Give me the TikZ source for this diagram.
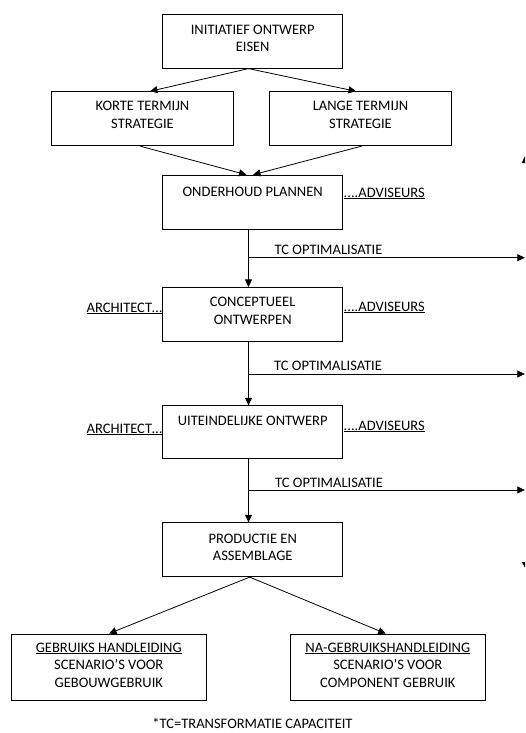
\documentclass[tikz,border=0pt]{standalone}
\usepackage{fontspec}
\setmainfont{Carlito}
\usetikzlibrary{arrows.meta}
\newcommand{\mlines}[1]{\parbox[t]{200pt}{\centering #1}}
\begin{document}
\begin{tikzpicture}[x=1pt,y=-1pt,
  box/.style={draw, line width=0.8pt, minimum width=180pt, minimum height=54pt, inner sep=0pt},
  txt/.style={anchor=base, inner sep=0pt, font=\fontsize{14.5}{17.5}\selectfont},
  side/.style={inner sep=0pt, font=\fontsize{14.5}{17.5}\selectfont},
  conn/.style={line width=0.8pt, -{Triangle[length=7.5pt,width=7pt]}},
  plain/.style={line width=0.8pt}]
\useasboundingbox (0,0) rectangle (525,733);
\clip (0,0) rectangle (525,733);

% boxes
\node[box] (b1) at (252.7,41.2) {};
\node[box, minimum width=181.6pt] (kort) at (142.5,118.7) {};
\node[box, minimum width=182.4pt] (lang) at (360.5,118.7) {};
\node[box] (ond) at (252.7,202.2) {};
\node[box, minimum height=53.7pt] (con) at (252.7,314.2) {};
\node[box, minimum height=52.6pt] (uit) at (252.7,432) {};
\node[box] (prod) at (252.7,549.7) {};
\node[box, minimum width=195.7pt, minimum height=66.7pt] (geb) at (108.8,667.3) {};
\node[box, minimum width=195.7pt, minimum height=66.7pt] (na) at (387.8,667.3) {};

% box texts
\node[txt] (b1t) at (252.7,34.3) {\mlines{INITIATIEF ONTWERP\\EISEN}};
\node[txt] (kortt) at (142.5,111) {\mlines{KORTE TERMIJN\\STRATEGIE}};
\node[txt] (langt) at (360.5,111) {\mlines{LANGE TERMIJN\\STRATEGIE}};
\node[txt] (ondt) at (252.7,196) {ONDERHOUD PLANNEN};
\node[txt] (cont) at (252.7,306.7) {\mlines{CONCEPTUEEL\\ONTWERPEN}};
\node[txt] (uitt) at (252.7,425) {UITEINDELIJKE ONTWERP};
\node[txt] (prodt) at (252.7,543) {\mlines{PRODUCTIE EN\\ASSEMBLAGE}};
\node[txt] (gebt) at (108.8,652) {\mlines{\underline{GEBRUIKS HANDLEIDING}\\SCENARIO’S VOOR\\GEBOUWGEBRUIK}};
\node[txt] (nat) at (387.8,652) {\mlines{\underline{NA-GEBRUIKSHANDLEIDING}\\SCENARIO’S VOOR\\COMPONENT GEBRUIK}};

% side labels
\node[side, anchor=base west] (adv1) at (343.5,197) {\underline{....ADVISEURS}};
\node[side, anchor=base west] (adv2) at (343.5,311) {\underline{....ADVISEURS}};
\node[side, anchor=base west] (adv3) at (343.5,430) {\underline{....ADVISEURS}};
\node[side, anchor=base east] (arch2) at (162.3,312) {\underline{ARCHITECT…}};
\node[side, anchor=base east] (arch3) at (162.3,433) {\underline{ARCHITECT…}};

% TC labels
\node[side, anchor=base west] (tc1) at (274.5,254) {TC OPTIMALISATIE};
\node[side, anchor=base west] (tc2) at (274,370) {TC OPTIMALISATIE};
\node[side, anchor=base west] (tc3) at (275,487) {TC OPTIMALISATIE};

% junctions
\coordinate (j1) at (248.5,257.7);
\coordinate (j2) at (248.5,374);
\coordinate (j3) at (248.5,490);
\coordinate (e1) at (524.8,257.7);
\coordinate (e2) at (524.8,374);
\coordinate (e3) at (524.8,490);

% connectors
\draw[conn] (j1 |- b1.south) -- (150,0 |- kort.north);
\draw[conn] (j1 |- b1.south) -- (356,0 |- lang.north);
\draw[conn] (140,0 |- kort.south) -- (246.5,0 |- ond.north);
\draw[conn] (361.7,0 |- lang.south) -- (253,0 |- ond.north);

\draw[plain] (j1 |- ond.south) -- (j1);
\draw[conn] (j1) -- (j1 |- con.north);
\draw[conn] (j1) -- (e1);
\draw[plain] (j2 |- con.south) -- (j2);
\draw[conn] (j2) -- (j2 |- uit.north);
\draw[conn] (j2) -- (e2);
\draw[plain] (j3 |- uit.south) -- (j3);
\draw[conn] (j3) -- (j3 |- prod.north);
\draw[conn] (j3) -- (e3);

\draw[conn] (249.7,0 |- prod.south) -- (109,0 |- geb.north);
\draw[conn] (249.7,0 |- prod.south) -- (385.7,0 |- na.north);

% footnote
\node[side, anchor=base] (fn) at (252.5,728.5) {*TC=TRANSFORMATIE CAPACITEIT};

% cut-off fragments at right edge
\fill (521.8,163) -- (524.6,156.5) -- (525,156.5) -- (525,163) -- cycle;
\fill (521.8,562) -- (525,562) -- (525,567) -- (524.6,567) -- cycle;
\end{tikzpicture}
\end{document}
